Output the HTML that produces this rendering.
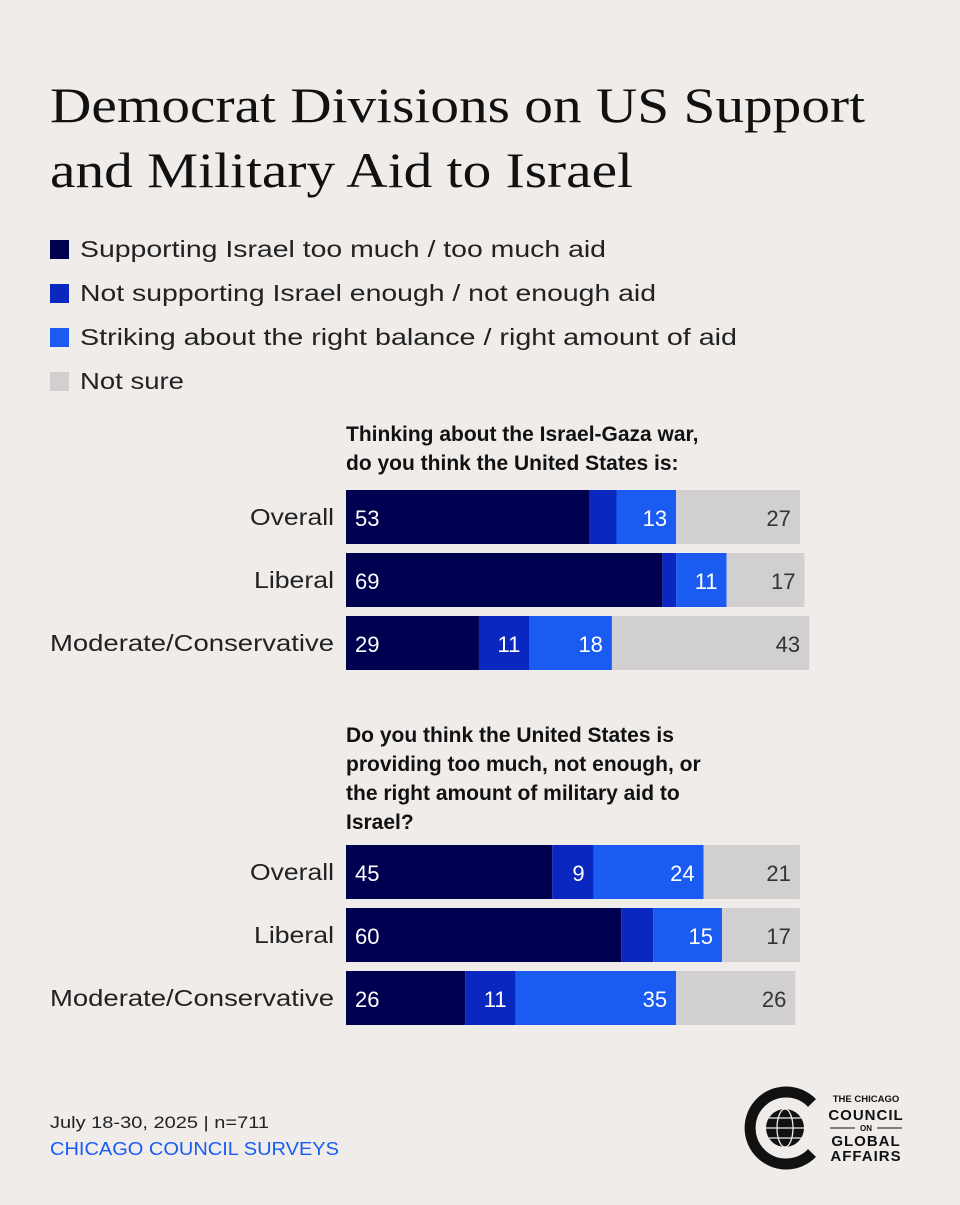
<!DOCTYPE html>
<html><head><meta charset="utf-8">
<style>
body{margin:0;width:960px;height:1200px;background:#efecea;font-family:"Liberation Sans",sans-serif;overflow:hidden;}
</style></head>
<body>
<svg id="chart" width="960" height="1200" xmlns="http://www.w3.org/2000/svg">
<text x="50" y="122" font-family="Liberation Serif,serif" font-size="50" fill="#111" textLength="815" lengthAdjust="spacingAndGlyphs">Democrat Divisions on US Support</text>
<text x="50" y="187" font-family="Liberation Serif,serif" font-size="50" fill="#111" textLength="583" lengthAdjust="spacingAndGlyphs">and Military Aid to Israel</text>
<g id="legend"></g>
<g id="bars"></g>
<text x="50" y="1128" font-size="17" fill="#222" textLength="219" lengthAdjust="spacingAndGlyphs">July 18-30, 2025 | n=711</text>
<text x="50" y="1155" font-size="18" fill="#1a5cf2" textLength="289" lengthAdjust="spacingAndGlyphs">CHICAGO COUNCIL SURVEYS</text>
<g>
<path d="M 812 1103 A 36 36 0 1 0 812 1153" fill="none" stroke="#111" stroke-width="11"/>
<circle cx="785" cy="1128" r="19" fill="#111"/>
<g stroke="#efecea" stroke-width="1.3" fill="none">
<ellipse cx="785" cy="1128" rx="8" ry="19"/><line x1="766" y1="1128" x2="804" y2="1128"/>
<line x1="769" y1="1118" x2="801" y2="1118"/><line x1="769" y1="1138" x2="801" y2="1138"/></g>
<text x="866" y="1102" font-size="9.5" font-weight="bold" text-anchor="middle" fill="#111">THE CHICAGO</text>
<text x="866" y="1120" font-size="15" font-weight="bold" text-anchor="middle" fill="#111" letter-spacing="1">COUNCIL</text>
<text x="866" y="1131" font-size="8" font-weight="bold" text-anchor="middle" fill="#111">ON</text>
<line x1="830" y1="1128" x2="855" y2="1128" stroke="#111"/><line x1="877" y1="1128" x2="902" y2="1128" stroke="#111"/>
<text x="866" y="1146" font-size="15" font-weight="bold" text-anchor="middle" fill="#111" letter-spacing="1">GLOBAL</text>
<text x="866" y="1161" font-size="15" font-weight="bold" text-anchor="middle" fill="#111" letter-spacing="1">AFFAIRS</text>
</g>
</svg>
<script>
const seriesNames=["Supporting Israel too much / too much aid","Not supporting Israel enough / not enough aid","Striking about the right balance / right amount of aid","Not sure"];
const colors=["#000050","#0a28c0","#1a5cf2","#d2cfd1"];
const categories=["Overall","Liberal","Moderate/Conservative"];
const war=[[53,6,13,27],[69,3,11,17],[29,11,18,43]];
const aid=[[45,9,24,21],[60,7,15,17],[26,11,35,26]];
const labels1=[["53","","13","27"],["69","","11","17"],["29","11","18","43"]];
const labels2=[["45","9","24","21"],["60","","15","17"],["26","11","35","26"]];
const legendWidths=[526,576,657,104];
const catWidths=[84,80,284];
const NS="http://www.w3.org/2000/svg";
function mk(t,a,p){const e=document.createElementNS(NS,t);for(const k in a)e.setAttribute(k,a[k]);p.appendChild(e);return e;}
const x0=346,pxPer=4.585;
function xs(v){return v*pxPer;}
const lg=document.getElementById('legend');
seriesNames.forEach((n,i)=>{
 const r=mk('rect',{x:50,y:240+i*44,width:19,height:19,fill:colors[i]},lg);
 
 
 const t=mk('text',{x:80,y:257+i*44,'font-size':23,fill:'#222',textLength:legendWidths[i],lengthAdjust:'spacingAndGlyphs'},lg);t.textContent=n;
 
 
});
const bg=document.getElementById('bars');
function panel(titleLines,ty,data,labs,y0){
 titleLines.forEach((l,i)=>{const t=mk('text',{x:346,y:ty+i*29,'font-size':21,'font-weight':'bold',fill:'#111'},bg);t.textContent=l;
  
  });
 data.forEach((row,r)=>{
  const y=y0+r*63;
  const c=mk('text',{x:334,y:y+35,'font-size':23,'text-anchor':'end',fill:'#222',textLength:catWidths[r],lengthAdjust:'spacingAndGlyphs'},bg);c.textContent=categories[r];
  
  
  let x=x0;
  row.forEach((v,i)=>{
   const w=xs(v);
   const b=mk('rect',{x:x,y:y,width:w,height:54,fill:colors[i]},bg);
   
   
   const lab=labs[r][i];
   if(lab){
    const t=mk('text',{x:i==0?x+9:x+w-9,y:y+36,'font-size':22,'text-anchor':i==0?'start':'end',fill:i==3?'#333':'#fff'},bg);t.textContent=lab;
    
    
   }
   x+=w;
  });
 });
}
panel(["Thinking about the Israel-Gaza war,","do you think the United States is:"],441,war,labels1,490);
panel(["Do you think the United States is","providing too much, not enough, or","the right amount of military aid to","Israel?"],742,aid,labels2,845);
</script>
</body></html>
